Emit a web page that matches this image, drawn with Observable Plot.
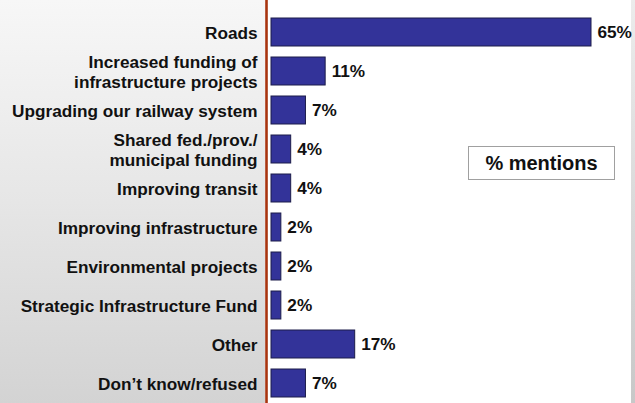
<!DOCTYPE html>
<html>
<head>
<meta charset="utf-8">
<script src="https://cdn.jsdelivr.net/npm/d3@7"></script>
<script src="https://cdn.jsdelivr.net/npm/@observablehq/plot@0.6"></script>
<style>
  html, body { margin: 0; padding: 0; overflow: hidden; }
  body { width: 635px; height: 403px; position: relative; font-family: "Liberation Sans", Arial, sans-serif; }
  #bg-left { position: absolute; left: 0; top: 0; width: 265px; height: 403px;
    background: linear-gradient(to bottom, #f7f7f7 0%, #e6e6e6 50%, #d3d3d3 100%); }
  #bg-mid { position: absolute; left: 265px; top: 0; width: 366px; height: 403px; background: #ffffff; }
  #bg-right { position: absolute; left: 631px; top: 0; width: 4px; height: 403px;
    background: linear-gradient(to bottom, #ececec 0%, #c8c8c8 100%); }
  #chart { position: absolute; left: 0; top: 0; }
  #chart svg { background: transparent; overflow: visible; }
  #legend { position: absolute; left: 468px; top: 146px; width: 145px; height: 32px;
    border: 1.5px solid #a0a0a0; background: #fff; box-sizing: content-box;
    font: bold 20px "Liberation Sans", Arial, sans-serif; color: #111;
    display: flex; align-items: center; justify-content: center; }
</style>
</head>
<body>
<div id="bg-left"></div>
<div id="bg-mid"></div>
<div id="bg-right"></div>
<div id="chart"></div>
<div id="legend">% mentions</div>
<script>
const categories = [
  "Roads",
  "Increased funding of\ninfrastructure projects",
  "Upgrading our railway system",
  "Shared fed./prov./\nmunicipal funding",
  "Improving transit",
  "Improving infrastructure",
  "Environmental projects",
  "Strategic Infrastructure Fund",
  "Other",
  "Don\u2019t know/refused"
];
const values = [65, 11, 7, 4, 4, 2, 2, 2, 17, 7];
const valueLabels = ["65%", "11%", "7%", "4%", "4%", "2%", "2%", "2%", "17%", "7%"];

const data = categories.map((c, i) => ({category: c, value: values[i], label: valueLabels[i]}));

const chart = Plot.plot({
  width: 635,
  height: 403,
  marginTop: 0,
  marginBottom: 0,
  marginLeft: 0,
  marginRight: 0,
  style: {fontFamily: "'Liberation Sans', Arial, sans-serif", background: "transparent"},
  x: {domain: [0, 65], range: [271, 591], axis: null},
  y: {domain: categories, range: [5.75, 410.25], padding: 0.28, axis: null},
  marks: [
    Plot.ruleX([0], {dx: -5, stroke: "#a8340f", strokeWidth: 2.6}),
    Plot.barX(data, {y: "category", x: "value", fill: "#333399", stroke: "#1c1c4a", strokeWidth: 1}),
    Plot.text(data, {y: "category", x: "value", text: "label", dx: 6, textAnchor: "start",
      fontSize: 17.2, fontWeight: "bold", fill: "#111"}),
    Plot.axisY({anchor: "left", tickSize: 0, tickPadding: 0, dx: 257, label: null,
      fontSize: 17.2, fontWeight: "bold", fill: "#111", lineHeight: 1.15, textAnchor: "end"})
  ]
});
document.getElementById("chart").appendChild(chart);
</script>
</body>
</html>
